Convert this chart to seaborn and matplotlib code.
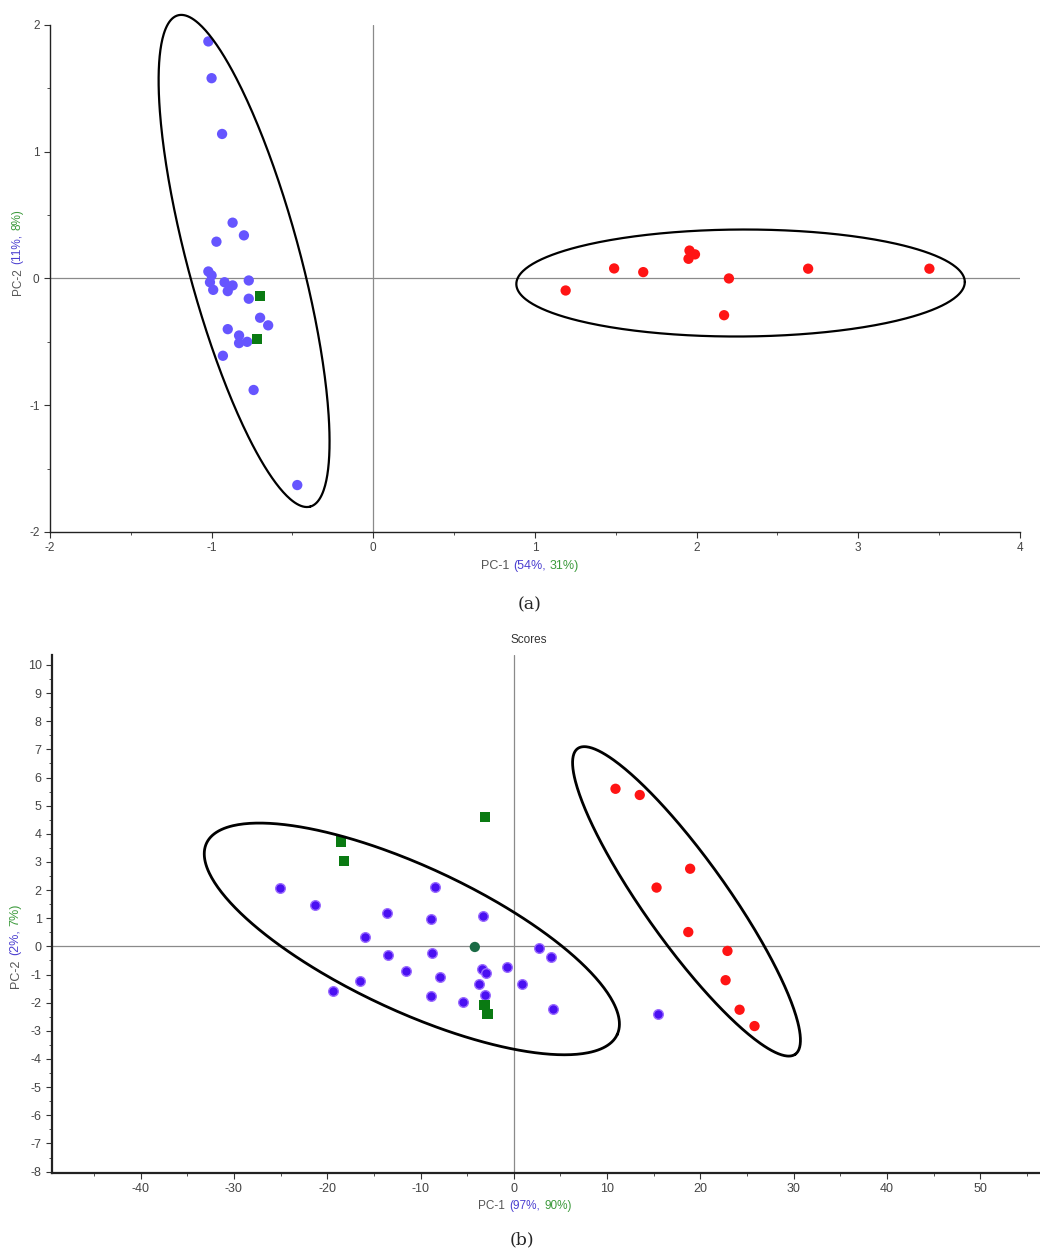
import matplotlib.pyplot as plt
import numpy as np
import pandas as pd
import seaborn as sns
from matplotlib.offsetbox import TextArea, HPacker, AnchoredOffsetbox
from matplotlib.ticker import MultipleLocator

# --- (a) scores PC-1 / PC-2 ---
a_blue_x = [-1.02, -1.00, -0.935, -0.87, -0.80, -0.97, -1.02, -1.00, -1.01, -0.99, -0.92, -0.90,
            -0.87, -0.77, -0.77, -0.70, -0.65, -0.90, -0.83, -0.83, -0.78, -0.93, -0.74, -0.47]
a_blue_y = [1.87, 1.58, 1.14, 0.44, 0.34, 0.29, 0.055, 0.024, -0.03, -0.09, -0.03, -0.10,
            -0.055, -0.016, -0.16, -0.31, -0.37, -0.40, -0.45, -0.51, -0.50, -0.61, -0.88, -1.63]
a_red_x = [1.19, 1.49, 1.67, 1.956, 1.99, 1.95, 2.20, 2.17, 2.69, 3.44]
a_red_y = [-0.095, 0.079, 0.05, 0.22, 0.19, 0.155, 0.0, -0.29, 0.077, 0.077]
a_green_x = [-0.70, -0.72]
a_green_y = [-0.14, -0.48]

# --- (b) scores PC-1 / PC-2 ---
b_blue_x = [-25.1, -21.3, -13.6, -8.4, -8.93, -3.27, -15.9, -13.5, -8.82, 2.71, 3.97, -11.6, -7.86,
            -3.46, -3.03, -0.78, -16.5, -19.4, -3.72, 0.93, -8.93, -3.14, -5.43, 4.15, 15.5]
b_blue_y = [2.07, 1.46, 1.20, 2.12, 0.96, 1.08, 0.35, -0.29, -0.24, -0.05, -0.37, -0.88, -1.07,
            -0.81, -0.94, -0.74, -1.23, -1.59, -1.35, -1.33, -1.76, -1.72, -1.99, -2.23, -2.39]
b_red_x = [10.9, 13.5, 18.9, 15.3, 18.7, 22.9, 22.7, 24.2, 25.8]
b_red_y = [5.60, 5.38, 2.76, 2.09, 0.51, -0.16, -1.20, -2.25, -2.83]
b_green_x = [-18.5, -18.2, -3.1, -3.14, -2.82]
b_green_y = [3.73, 3.04, 4.59, -2.09, -2.40]
b_teal_x = [-4.18]
b_teal_y = [-0.02]

# ellipses: centre x, centre y, first semi-axis (ux, uy), second semi-axis (vx, vy)
ell_a = [(-0.799, 0.138, 0.409, -1.938, 0.335, 0.115),
         (2.272, -0.036, 1.387, 0.008, 0.0, 0.422)]
ell_b = [(-10.93, 0.266, 22.01, -3.40, -3.26, -2.32),
         (18.51, 1.60, 11.66, -5.43, -3.63, -0.855)]

sns.set_style("ticks")
plt.rcParams['font.family'] = ['Liberation Sans', 'DejaVu Sans']
plt.rcParams['axes.unicode_minus'] = False

fig = plt.figure(figsize=(10.4, 12.54), dpi=100)
ax1 = fig.add_axes([0.048, 0.5758, 0.9327, 0.4043])
ax2 = fig.add_axes([0.05, 0.0646, 0.95, 0.413])


def draw_ellipses(ax, ells, lw):
    t = np.linspace(0, 2 * np.pi, 400)
    for cx, cy, ux, uy, vx, vy in ells:
        ax.plot(cx + ux * np.cos(t) + vx * np.sin(t), cy + uy * np.cos(t) + vy * np.sin(t),
                color='black', lw=lw, clip_on=False, zorder=4)


def style_axes(ax, spine_lw, labelsize):
    for s in ['top', 'right']:
        ax.spines[s].set_visible(False)
    for s in ['left', 'bottom']:
        ax.spines[s].set_color('#222222')
        ax.spines[s].set_linewidth(spine_lw)
    ax.axhline(0, color='#8a8a8a', lw=0.9, zorder=0)
    ax.axvline(0, color='#8a8a8a', lw=0.9, zorder=0)
    ax.tick_params(which='major', length=4, width=0.8, color='#333333',
                   labelsize=labelsize, labelcolor='#444444')
    ax.tick_params(which='minor', length=2, width=0.6, color='#333333')
    ax.set_xlabel('')
    ax.set_ylabel('')


# panel (a)
df_a = pd.DataFrame({
    'PC1': a_blue_x + a_red_x + a_green_x,
    'PC2': a_blue_y + a_red_y + a_green_y,
    'grupo': ['g1'] * len(a_blue_x) + ['g2'] * len(a_red_x) + ['g3'] * len(a_green_x),
})
sns.scatterplot(data=df_a, x='PC1', y='PC2', hue='grupo', style='grupo',
                palette={'g1': '#6655ff', 'g2': '#ff1414', 'g3': '#0a7a12'},
                markers={'g1': 'o', 'g2': 'o', 'g3': 's'},
                s=55, linewidth=0, legend=False, ax=ax1, zorder=3)
draw_ellipses(ax1, ell_a, 1.6)
ax1.set_xlim(-2, 4)
ax1.set_ylim(-2, 2)
ax1.xaxis.set_major_locator(MultipleLocator(1))
ax1.yaxis.set_major_locator(MultipleLocator(1))
ax1.xaxis.set_minor_locator(MultipleLocator(0.5))
ax1.yaxis.set_minor_locator(MultipleLocator(0.5))
style_axes(ax1, 1.0, 8.5)

# panel (b)
df_b = pd.DataFrame({
    'PC1': b_red_x + b_green_x + b_teal_x,
    'PC2': b_red_y + b_green_y + b_teal_y,
    'grupo': ['g2'] * len(b_red_x) + ['g3'] * len(b_green_x) + ['g4'] * len(b_teal_x),
})
sns.scatterplot(x=b_blue_x, y=b_blue_y, color='#4a10f2', edgecolor='#9b6cff', linewidth=1.0,
                s=48, ax=ax2, zorder=3)
sns.scatterplot(data=df_b, x='PC1', y='PC2', hue='grupo', style='grupo',
                palette={'g2': '#ff1414', 'g3': '#0a7a12', 'g4': '#1b6b45'},
                markers={'g2': 'o', 'g3': 's', 'g4': 'o'},
                s=55, linewidth=0, legend=False, ax=ax2, zorder=3)
draw_ellipses(ax2, ell_b, 2.0)
ax2.set_xlim(-49.5, 56.4)
ax2.set_ylim(-8.05, 10.35)
ax2.xaxis.set_major_locator(MultipleLocator(10))
ax2.yaxis.set_major_locator(MultipleLocator(1))
ax2.xaxis.set_minor_locator(MultipleLocator(5))
ax2.yaxis.set_minor_locator(MultipleLocator(0.5))
style_axes(ax2, 1.6, 9)
ax2.set_xticks(list(range(-40, 60, 10)))


# multi-coloured axis titles
def xlabel_pieces(x, y, pieces, size):
    boxes = [TextArea(txt, textprops=dict(color=c, size=size)) for txt, c in pieces]
    pack = HPacker(children=boxes, align='baseline', pad=0, sep=3)
    box = AnchoredOffsetbox(loc='center', child=pack, pad=0, frameon=False,
                            bbox_to_anchor=(x, y), bbox_transform=fig.transFigure)
    fig.add_artist(box)


def ylabel_pieces(x, y, pieces, size):
    prev = fig.text(x, y, pieces[0][0], color=pieces[0][1], size=size, rotation=90,
                    ha='center', va='bottom')
    for txt, c in pieces[1:]:
        prev = ax1.annotate(txt, xy=(0.5, 1), xycoords=prev, xytext=(0, 3),
                            textcoords='offset points', color=c, size=size, rotation=90,
                            ha='center', va='bottom', annotation_clip=False)


grey = '#555555'
blue = '#4b3fd0'
green = '#3c9a3c'

xlabel_pieces(0.5096, 1 - 566 / 1254, [('PC-1', grey), ('(54%,', blue), ('31%)', green)], 9)
ylabel_pieces(0.0170, 1 - 295 / 1254, [('PC-2', grey), ('(11%,', blue), ('8%)', green)], 8.5)
xlabel_pieces(0.5048, 1 - 1206 / 1254, [('PC-1', grey), ('(97%,', blue), ('90%)', green)], 8.5)
ylabel_pieces(0.0150, 1 - 988 / 1254, [('PC-2', grey), ('(2%,', blue), ('7%)', green)], 9)

fig.text(0.5087, 1 - 640 / 1254, 'Scores', ha='center', va='center', size=8.5, color='#333333')
fig.text(0.5096, 1 - 605 / 1254, '(a)', ha='center', va='center', size=12.5, family='DejaVu Serif')
fig.text(0.502, 1 - 1240 / 1254, '(b)', ha='center', va='center', size=12.5, family='DejaVu Serif')

fig.savefig('out.png', dpi=100)
